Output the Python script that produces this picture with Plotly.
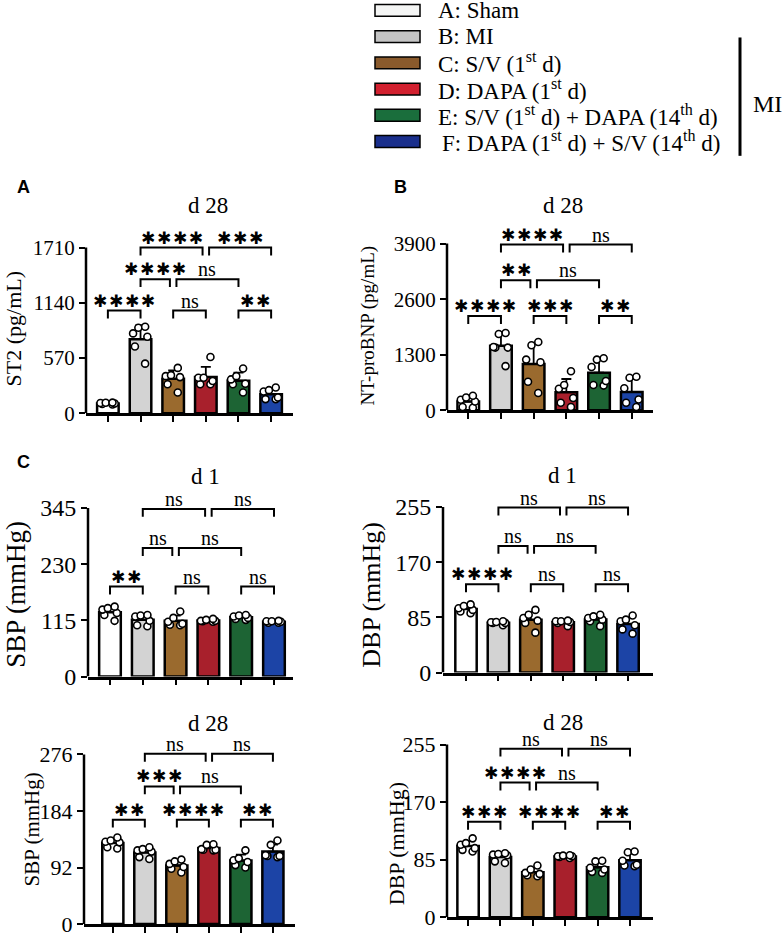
import numpy as np
import plotly.graph_objects as go

# groups / colours
groups = ["A", "B", "C", "D", "E", "F"]
legend_labels = [
    "A: Sham",
    "B: MI",
    "C: S/V (1<sup>st</sup> d)",
    "D: DAPA (1<sup>st</sup> d)",
    "E: S/V (1<sup>st</sup> d) + DAPA (14<sup>th</sup> d)",
    "F: DAPA (1<sup>st</sup> d) + S/V (14<sup>th</sup> d)",
]
bar_colors = ["#ffffff", "#d3d3d3", "#9a6a2e", "#a8202c", "#1d6434", "#1c44a6"]
legend_colors = ["#f4f5f4", "#c4c4c4", "#8a5a2c", "#d2202f", "#1a6e3c", "#1a2f8c"]

# individual animals (6 per group)
st2_pts = [
    [95, 110, 105, 100, 90, 108],
    [892, 882, 824, 790, 689, 512],
    [468, 393, 383, 373, 299, 214],
    [580, 366, 366, 332, 299, 299],
    [461, 383, 349, 305, 299, 214],
    [265, 238, 224, 163, 146, 146],
]
ntprobnp_pts = [
    [340, 300, 245, 205, 76, 61],
    [1809, 1786, 1482, 1467, 1467, 1034],
    [1596, 1520, 1186, 1125, 669, 403],
    [912, 593, 502, 289, 175, 76],
    [1216, 1186, 1011, 684, 593, 578],
    [783, 760, 517, 251, 175, 76],
]
sbp_d1_pts = [
    [143, 140, 137, 130, 126, 114],
    [126, 125, 123, 114, 105, 103],
    [133, 120, 112, 108, 106, 105],
    [118, 116, 114, 114, 113, 112],
    [126, 125, 123, 120, 118, 116],
    [114, 113, 113, 112, 110, 110],
]
dbp_d1_pts = [
    [105, 102.5, 99, 96.5, 94, 91.5],
    [79, 78, 77.5, 76.5, 76.5, 73],
    [96.5, 89, 84, 80, 76.5, 61.5],
    [80, 79, 79, 78, 76.5, 71.5],
    [89, 86.5, 84, 81.5, 79, 71.5],
    [88, 81.5, 79, 73, 66.5, 60],
]
sbp_d28_pts = [
    [141, 136, 134, 133, 125, 123],
    [125, 122, 120, 118, 109, 106],
    [105, 102, 98, 93, 90, 84],
    [130, 129, 122, 121, 121, 120],
    [120, 107, 104, 101, 96, 92],
    [136, 129, 112, 111, 111, 109],
]
dbp_d28_pts = [
    [116.5, 109.5, 107, 102, 99.5, 97],
    [94.5, 93.5, 92.5, 91.5, 82.5, 80],
    [76.5, 70.5, 65.5, 64, 62, 60.5],
    [91.5, 91, 90, 90, 89, 87.5],
    [83.5, 82.5, 73, 70.5, 67, 65.5],
    [97, 96, 83.5, 77.5, 76.5, 75.5],
]

# axis tops (3 intervals each) and bracket heights
axis_tops = [1710, 3900, 345, 255, 276, 255]
bracket_levels = [
    [1059, 1384, 1710],
    [2205, 3041, 3877],
    [184, 263, 343],
    [136, 195, 254],
    [170, 224, 277],
    [141, 199, 249],
]
# (group i, group j, row)
pairs = [(0, 1, 0), (2, 3, 0), (4, 5, 0), (1, 2, 1), (2, 4, 1), (1, 3, 2), (3, 5, 2)]
sig_labels = [
    ["****", "ns", "**", "****", "ns", "****", "***"],
    ["****", "***", "**", "**", "ns", "****", "ns"],
    ["**", "ns", "ns", "ns", "ns", "ns", "ns"],
    ["****", "ns", "ns", "ns", "ns", "ns", "ns"],
    ["**", "****", "**", "***", "ns", "ns", "ns"],
    ["***", "****", "**", "****", "ns", "ns", "ns"],
]
panel_data = [st2_pts, ntprobnp_pts, sbp_d1_pts, dbp_d1_pts, sbp_d28_pts, dbp_d28_pts]
panel_titles = ["d 28", "d 28", "d 1", "d 1", "d 28", "d 28"]
y_titles = ["ST2 (pg/mL)", "NT-proBNP (pg/mL)", "SBP (mmHg)", "DBP (mmHg)", "SBP (mmHg)", "DBP (mmHg)"]

W, H = 784, 945
SERIF = "Liberation Serif"

# layout of each panel in pixels: axis left/right, zero line, top tick, x range,
# tick font, y title (x, y, size), panel title (x, y)
geom = [
    dict(l=86, r=293, zero=419, top=251, xr=(-0.67, 5.67), tf=21, yt=(13, 333, 22), ti=(208, 208)),
    dict(l=447, r=653, zero=416, top=247, xr=(-0.65, 5.65), tf=21, yt=(368, 330, 19), ti=(563, 208)),
    dict(l=88, r=293, zero=686, top=515, xr=(-0.67, 5.58), tf=24, yt=(16, 603, 27), ti=(205, 483)),
    dict(l=443, r=653, zero=682, top=514, xr=(-0.71, 5.77), tf=24, yt=(372, 603, 26), ti=(562, 482)),
    dict(l=84, r=295, zero=937, top=765, xr=(-0.9, 5.69), tf=22, yt=(32, 841, 21), ti=(208, 734)),
    dict(l=447, r=653, zero=930, top=755, xr=(-0.65, 5.71), tf=22, yt=(396, 855, 22), ti=(563, 733)),
]
EXT = 1.3
STAR = "\u2731"
GAP = "\u200a"


def px(x):
    return x / W


def py(y):
    return 1 - y / H


fig = go.Figure()
annotations = []
shapes = []
xs = list(range(6))

for k, pts in enumerate(panel_data):
    g = geom[k]
    n = "" if k == 0 else str(k + 1)
    xa, ya = "x" + n, "y" + n
    top = axis_tops[k]
    arr = np.array(pts, dtype=float)
    means = arr.mean(axis=1)
    sds = arr.std(axis=1, ddof=1)

    fig.add_trace(go.Bar(
        x=xs, y=means, width=0.66, xaxis=xa, yaxis=ya,
        marker=dict(color=bar_colors, line=dict(color="black", width=2.5)),
        error_y=dict(type="data", symmetric=False, array=sds, arrayminus=[0] * 6,
                     color="black", thickness=1.8, width=5),
        showlegend=False,
    ))
    for i in xs:
        fig.add_trace(go.Box(
            x=[i] * len(pts[i]), y=pts[i], xaxis=xa, yaxis=ya,
            boxpoints="all", jitter=0.9, pointpos=0, width=0.6,
            fillcolor="rgba(0,0,0,0)", line=dict(width=0),
            marker=dict(symbol="circle", color="white", size=7,
                        line=dict(color="black", width=1.6)),
            showlegend=False,
        ))

    # significance brackets
    span = g["zero"] - g["top"]
    leg = 8.0 / span * top
    for (i, j, row), lab in zip(pairs, sig_labels[k]):
        level = bracket_levels[k][row]
        same_row = [(a, b) for (a, b, r) in pairs if r == row and (a, b) != (i, j)]
        x0 = i + (0.1 if any(b == i for a, b in same_row) else 0)
        x1 = j - (0.1 if any(a == j for a, b in same_row) else 0)
        fig.add_trace(go.Scatter(
            x=[x0, x0, x1, x1], y=[level - leg, level, level, level - leg],
            mode="lines", line=dict(color="black", width=2),
            xaxis=xa, yaxis=ya, showlegend=False, hoverinfo="skip",
        ))
        if lab == "ns":
            annotations.append(dict(
                x=(x0 + x1) / 2, y=level, xref=xa, yref=ya, text="ns",
                showarrow=False, yanchor="bottom", yshift=-3,
                font=dict(family=SERIF, size=20, color="black"),
            ))
        else:
            annotations.append(dict(
                x=(x0 + x1) / 2, y=level, xref=xa, yref=ya,
                text=GAP.join(STAR * len(lab)), showarrow=False, yanchor="bottom", yshift=-2,
                font=dict(family="DejaVu Sans", size=17, color="black"),
            ))

    # y spine only up to the top tick
    shapes.append(dict(type="line", xref=xa + " domain", yref=ya, x0=0, x1=0, y0=0, y1=top,
                       line=dict(color="black", width=2.5)))

    ticks = [0, top / 3, 2 * top / 3, top]
    fig.update_layout({
        "xaxis" + n: dict(
            domain=[px(g["l"]), px(g["r"])], range=list(g["xr"]), anchor=ya,
            tickvals=xs, showticklabels=False, ticks="outside", ticklen=6, tickwidth=2,
            tickcolor="black", showline=True, linecolor="black", linewidth=2.5,
            showgrid=False, zeroline=False, fixedrange=True,
        ),
        "yaxis" + n: dict(
            domain=[py(g["zero"]), py(g["zero"] - span * EXT)], range=[0, top * EXT], anchor=xa,
            tickvals=ticks, ticktext=[str(int(round(t))) for t in ticks],
            ticks="outside", ticklen=6, tickwidth=2, tickcolor="black",
            tickfont=dict(family=SERIF, size=g["tf"], color="black"),
            showline=False, showgrid=False, zeroline=False, fixedrange=True,
        ),
    })

    yx, yy, ys = g["yt"]
    annotations.append(dict(x=px(yx), y=py(yy), xref="paper", yref="paper", text=y_titles[k],
                            textangle=-90, showarrow=False, xanchor="center", yanchor="middle",
                            font=dict(family=SERIF, size=ys, color="black")))
    tx, ty = g["ti"]
    annotations.append(dict(x=px(tx), y=py(ty), xref="paper", yref="paper", text=panel_titles[k],
                            showarrow=False, xanchor="center", yanchor="middle",
                            font=dict(family=SERIF, size=23, color="black")))

# panel letters
for letter, (lx, ly) in zip(["A", "B", "C"], [(23, 190), (400, 190), (23, 468)]):
    annotations.append(dict(x=px(lx), y=py(ly), xref="paper", yref="paper", text="<b>%s</b>" % letter,
                            showarrow=False, xanchor="center", yanchor="middle",
                            font=dict(family="Liberation Sans", size=18, color="black")))

# legend block
row0, row_step = 10.5, 26.6
for i, lab in enumerate(legend_labels):
    yc = row0 + i * row_step
    shapes.append(dict(type="rect", xref="paper", yref="paper",
                       x0=px(375), x1=px(420), y0=py(yc + 6), y1=py(yc - 6),
                       fillcolor=legend_colors[i], line=dict(color="black", width=1.5)))
    annotations.append(dict(x=px(436 if i < 5 else 440), y=py(yc), xref="paper", yref="paper", text=lab,
                            showarrow=False, xanchor="left", yanchor="middle",
                            font=dict(family=SERIF, size=23, color="black")))
shapes.append(dict(type="line", xref="paper", yref="paper", x0=px(740), x1=px(740),
                   y0=py(38), y1=py(158), line=dict(color="black", width=3)))
annotations.append(dict(x=px(767), y=py(105), xref="paper", yref="paper", text="MI",
                        showarrow=False, xanchor="center", yanchor="middle",
                        font=dict(family=SERIF, size=24, color="black")))

fig.update_layout(
    width=W, height=H, margin=dict(l=0, r=0, t=0, b=0),
    paper_bgcolor="white", plot_bgcolor="white",
    boxmode="overlay", barmode="overlay", showlegend=False,
    annotations=annotations, shapes=shapes,
)

fig.write_html("out.html", config={"displayModeBar": False},
               post_script="document.body.style.margin = '0';")
